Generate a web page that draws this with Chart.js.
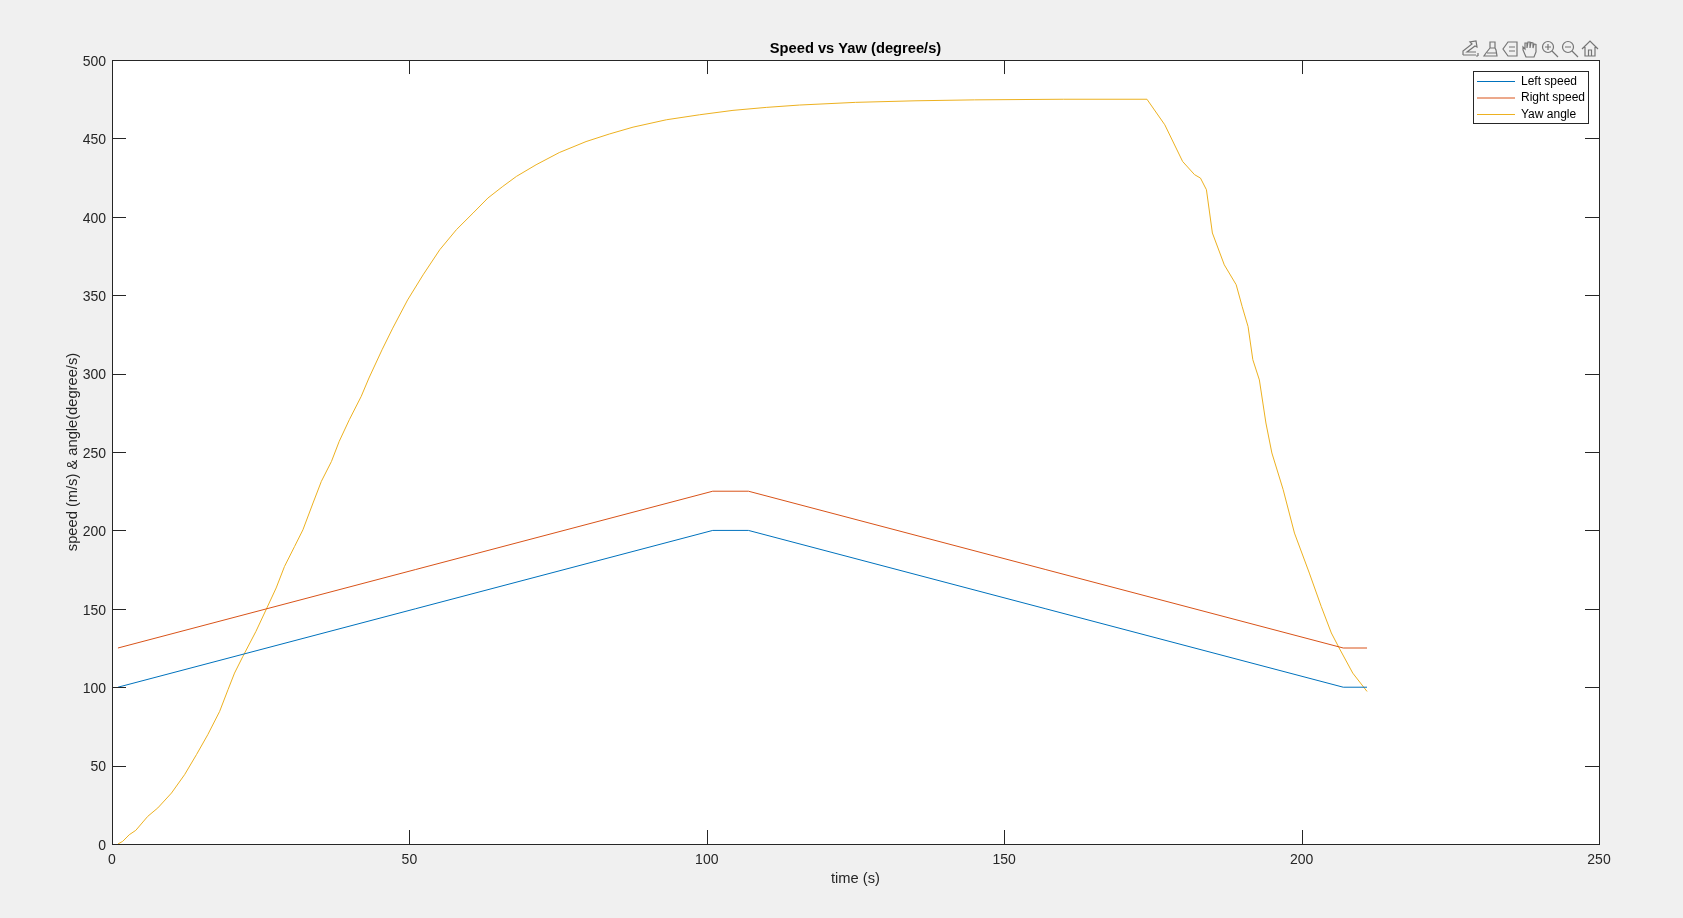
<!DOCTYPE html>
<html>
<head>
<meta charset="utf-8">
<title>Speed vs Yaw</title>
<script src="https://cdn.jsdelivr.net/npm/chart.js@4"></script>
<style>
    html, body { margin: 0; padding: 0; background: #f0f0f0; overflow: hidden; }
    #wrap { position: relative; width: 1683px; height: 918px; }
    #grafico { position: absolute; left: 0; top: 0; }
    #toolbar { position: absolute; left: 0; top: 0; pointer-events: none; }
</style>
</head>
<body>
<div id="wrap">
    <canvas id="grafico" width="1683" height="918"></canvas>
    <svg id="toolbar" width="1683" height="70" fill="none" stroke="#757575" stroke-width="1.2">
        <!-- figure toolbar icons -->
        <path d="M1463 55 L1463 51 L1472 44 L1470 42 L1476 41 L1477 47 L1475 46 L1467 52 L1476 52 M1463 55 L1476 55" />
        <path d="M1478 53 L1478 56 M1476 56 L1478 56" />
        <path d="M1490 42 L1495 42 L1495 48 L1490 48 Z M1490 48 L1486 53 L1484 56 L1497 56 L1496 50 L1495 48 M1487 53 L1496 53" />
        <path d="M1508 42 L1517 42 L1517 56 L1508 56 L1503 49 Z M1509 47 L1515 47 M1509 51 L1515 51" />
        <path d="M1526 57 L1523 50 L1523 47 L1525 49 L1525 43 L1527 43 L1527 48 L1528 42 L1530 42 L1530 48 L1531 42.5 L1533 43 L1533 48 L1534 44 L1536 44.5 L1536 52 L1534 57 Z" />
        <circle cx="1548" cy="47" r="5.5" />
        <path d="M1552 51 L1558 57 M1545 47 L1551 47 M1548 44 L1548 50" />
        <circle cx="1568" cy="47" r="5.5" />
        <path d="M1572 51 L1578 57 M1565 47 L1571 47" />
        <path d="M1582 49 L1590 41 L1598 49 M1585 47 L1585 56 L1595 56 L1595 47 M1588.5 56 L1588.5 50 L1591.5 50 L1591.5 56" />
    </svg>
</div>
<script>
const xTicks = [0, 50, 100, 150, 200, 250];
const yTicks = [0, 50, 100, 150, 200, 250, 300, 350, 400, 450, 500];

const speedTime = [1, 101, 107, 207, 211];
const leftSpeed = [100, 200, 200, 100, 100];
const rightSpeed = [125, 225, 225, 125, 125];

const yawTime = [1, 1.8, 2.9, 4, 6, 7.7, 10, 12.2, 14.2, 16.1, 18.1, 19.5, 20.6, 22, 24.2, 25.9,
    27.6, 29, 30.7, 32.1, 33.8, 35.2, 36.9, 38.2, 39.9, 41.9, 43.2, 45.4, 47.2, 49.7, 52.3, 55.1,
    57.9, 60.7, 63.2, 65.7, 68, 71.3, 75.2, 79.7, 83.6, 87.6, 93.2, 98.8, 104.4, 110, 115.6, 125,
    135, 145, 160, 174, 177, 180, 182, 183, 184, 185, 187, 189, 190, 191, 191.8, 192.9, 194, 195,
    196.9, 198.8, 201.3, 203.3, 205, 206.4, 208.6, 211];
const yawAngle = [0, 1.7, 5.9, 8.7, 17.6, 23, 32.5, 44.2, 57, 69.7, 84.6, 98.4, 109, 119.6, 135.6, 149.4,
    163.3, 177, 189.8, 200.4, 217.5, 231.3, 244, 256.8, 270.6, 285.5, 297.2, 315.2, 329, 347, 363, 379,
    391.8, 402.4, 412, 419.4, 425.8, 433.2, 441, 448, 452.8, 457.2, 461.9, 465.1, 467.9, 469.8, 471.3, 473,
    474, 474.6, 475, 475, 458.7, 435.3, 426.9, 424.7, 417.3, 389.7, 369.4, 356.7, 342.9, 330, 308.9, 296, 268.5, 249.4,
    226, 198.3, 172.8, 151.5, 134.6, 124.4, 109, 97.3];

const corTexto = '#262626';
const fonte = 'Liberation Sans, Arial, sans-serif';

function pontos(xs, ys) {
    return xs.map((x, i) => ({ x: x, y: ys[i] }));
}

// white plot area, box round it and ticks pointing inwards on all four sides
const moldura = {
    id: 'moldura',
    afterLayout(chart) {
        const leg = chart.legend;
        const w = leg.width, h = leg.height;
        leg.left = 1472.5;
        leg.top = 71;
        leg.right = leg.left + w;
        leg.bottom = leg.top + h;
        leg.adjustHitBoxes();
    },
    beforeDraw(chart) {
        const { ctx, chartArea: a } = chart;
        ctx.save();
        ctx.fillStyle = '#ffffff';
        ctx.fillRect(a.left, a.top, a.right - a.left, a.bottom - a.top);
        ctx.restore();
    },
    afterDraw(chart) {
        const { ctx, chartArea: a, scales } = chart;
        const tam = 14;
        ctx.save();
        ctx.strokeStyle = corTexto;
        ctx.lineWidth = 1;
        ctx.beginPath();
        scales.x.ticks.forEach(t => {
            const px = Math.round(scales.x.getPixelForValue(t.value)) + 0.5;
            ctx.moveTo(px, a.top); ctx.lineTo(px, a.top + tam);
            ctx.moveTo(px, a.bottom); ctx.lineTo(px, a.bottom - tam);
        });
        scales.y.ticks.forEach(t => {
            const py = Math.round(scales.y.getPixelForValue(t.value)) + 0.5;
            ctx.moveTo(a.left, py); ctx.lineTo(a.left + tam, py);
            ctx.moveTo(a.right, py); ctx.lineTo(a.right - tam, py);
        });
        ctx.stroke();
        ctx.strokeRect(Math.round(a.left) + 0.5, Math.round(a.top) + 0.5, Math.round(a.right - a.left), Math.round(a.bottom - a.top));
        // legend frame
        ctx.strokeStyle = '#262626';
        ctx.strokeRect(1473.5, 71.5, 115, 52);
        ctx.restore();
    }
};

new Chart(document.getElementById('grafico'), {
    type: 'scatter',
    data: {
        datasets: [
            { label: 'Left speed', data: pontos(speedTime, leftSpeed), borderColor: '#0072BD', backgroundColor: '#0072BD' },
            { label: 'Right speed', data: pontos(speedTime, rightSpeed), borderColor: '#D95319', backgroundColor: '#D95319' },
            { label: 'Yaw angle', data: pontos(yawTime, yawAngle), borderColor: '#EDB120', backgroundColor: '#EDB120' }
        ]
    },
    options: {
        responsive: false,
        animation: false,
        devicePixelRatio: 1,
        layout: { padding: { right: 84 } },
        elements: {
            line: { borderWidth: 1, tension: 0 },
            point: { radius: 0 }
        },
        datasets: { scatter: { showLine: true } },
        plugins: {
            tooltip: { enabled: false },
            title: {
                display: true,
                text: 'Speed vs Yaw (degree/s)',
                color: '#000000',
                fullSize: false,
                font: { family: fonte, size: 14.7, weight: 'bold' },
                padding: { top: 40.5, bottom: 1.9 }
            },
            legend: {
                position: 'chartArea',
                align: 'start',
                labels: {
                    color: '#000000',
                    font: { family: fonte, size: 12 },
                    usePointStyle: true,
                    pointStyle: 'line',
                    pointStyleWidth: 38,
                    boxHeight: 10,
                    padding: 4.5
                }
            }
        },
        scales: {
            x: {
                type: 'linear',
                min: 0,
                max: 250,
                afterBuildTicks(scale) { scale.ticks = xTicks.map(v => ({ value: v })); },
                afterFit(scale) { scale.height = 74; },
                grid: { display: false, drawTicks: false },
                border: { display: false },
                ticks: { color: corTexto, font: { family: fonte, size: 14 }, padding: 8, maxRotation: 0 },
                title: { display: true, text: 'time (s)', color: corTexto, font: { family: fonte, size: 14.7 }, padding: { top: 0, bottom: 30 } }
            },
            y: {
                type: 'linear',
                min: 0,
                max: 500,
                afterBuildTicks(scale) { scale.ticks = yTicks.map(v => ({ value: v })); },
                afterFit(scale) { scale.width = 112; scale.paddingRight = 0; },
                grid: { display: false, drawTicks: false },
                border: { display: false },
                ticks: { color: corTexto, font: { family: fonte, size: 14 }, padding: 6, labelOffset: 2 },
                title: { display: true, text: 'speed (m/s) & angle(degree/s)', color: corTexto, font: { family: fonte, size: 14.7 }, padding: { top: 64, bottom: 0 } }
            }
        }
    },
    plugins: [moldura]
});
</script>
</body>
</html>
